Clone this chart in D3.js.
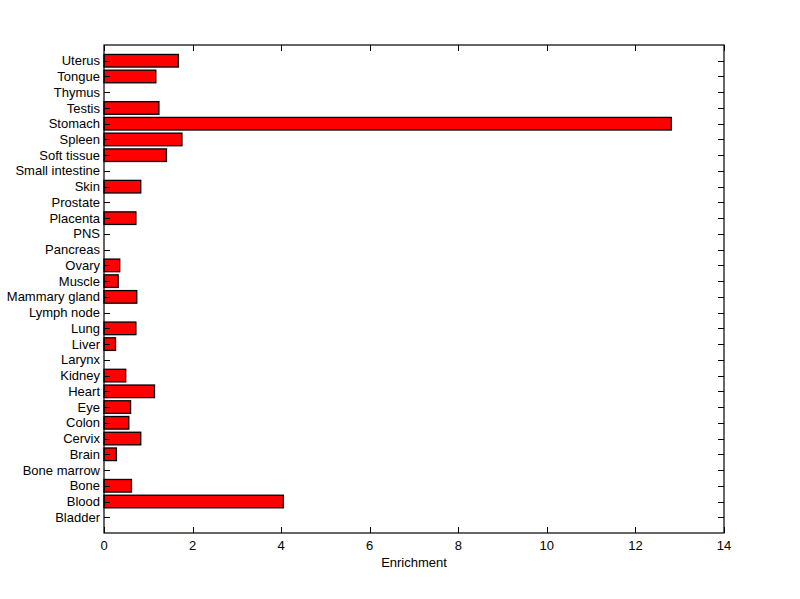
<!DOCTYPE html>
<html><head><meta charset="utf-8">
<script src="https://cdn.jsdelivr.net/npm/d3@7"></script>
<style>body{margin:0;background:#fff}svg{display:block}text{font-family:"Liberation Sans",Arial,sans-serif;fill:#000}</style>
</head><body>
<script>
const categories = ["Bladder","Blood","Bone","Bone marrow","Brain","Cervix","Colon","Eye","Heart","Kidney","Larynx","Liver","Lung","Lymph node","Mammary gland","Muscle","Ovary","Pancreas","PNS","Placenta","Prostate","Skin","Small intestine","Soft tissue","Spleen","Stomach","Testis","Thymus","Tongue","Uterus"];
const values = [0,4.05,0.62,0,0.28,0.83,0.56,0.60,1.14,0.49,0,0.26,0.72,0,0.74,0.32,0.355,0,0,0.72,0,0.83,0,1.41,1.76,12.81,1.24,0,1.17,1.68];
const xTicks = [0,2,4,6,8,10,12,14];

const W=800,H=599, L=104, R=724, T=45, B=533;
const svg=d3.select("body").append("svg").attr("width",W).attr("height",H);
const x=d3.scaleLinear().domain([0,14]).range([L,R]);
const y=d3.scaleLinear().domain([0,categories.length+1]).range([B,T]);
const bh = y(0)-y(0.8);
const rows = categories.map((c,i)=>({c, v:values[i], i})).filter(d=>d.v>0);

svg.append("g").selectAll("rect").data(rows).join("rect")
  .attr("x",x(0)).attr("width",d=>x(d.v)-x(0))
  .attr("y",d=>y(d.i+1)-bh/2).attr("height",bh)
  .attr("fill","#ff0000").attr("stroke","#000").attr("stroke-width",1.3);

// frame
svg.append("rect").attr("x",L).attr("y",T).attr("width",R-L).attr("height",B-T)
  .attr("fill","none").attr("stroke","#000").attr("stroke-width",1.2);

const tk=6;
const g=svg.append("g").attr("stroke","#000").attr("stroke-width",1);
categories.forEach((c,i)=>{
  const yy=Math.round(y(i+1))+0.5;
  g.append("line").attr("x1",L).attr("x2",L+tk).attr("y1",yy).attr("y2",yy);
  g.append("line").attr("x1",R-tk).attr("x2",R).attr("y1",yy).attr("y2",yy);
});
xTicks.forEach(t=>{
  const xx=Math.round(x(t))+0.5;
  g.append("line").attr("x1",xx).attr("x2",xx).attr("y1",B).attr("y2",B-tk);
  g.append("line").attr("x1",xx).attr("x2",xx).attr("y1",T).attr("y2",T+tk);
});

svg.append("g").selectAll("text").data(categories).join("text")
  .attr("x",L-4).attr("y",(d,i)=>y(i+1)).attr("dy","0.35em")
  .attr("text-anchor","end").attr("font-size",13).text(d=>d);

svg.append("g").selectAll("text").data(xTicks).join("text")
  .attr("x",d=>x(d)).attr("y",B+17).attr("text-anchor","middle")
  .attr("font-size",13).text(d=>d);

svg.append("text").attr("x",(L+R)/2).attr("y",B+34).attr("text-anchor","middle")
  .attr("font-size",13).text("Enrichment");
</script>
</body></html>
